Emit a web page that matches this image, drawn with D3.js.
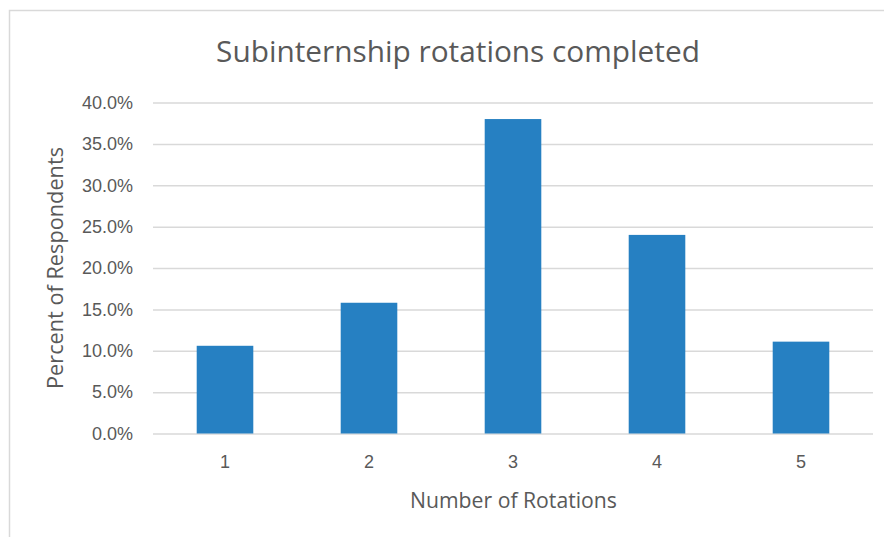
<!DOCTYPE html>
<html>
<head>
<meta charset="utf-8">
<script src="https://cdn.jsdelivr.net/npm/d3@7"></script>
<style>
  html, body { margin: 0; padding: 0; background: #ffffff; }
  svg { display: block; font-family: "Open Sans", "Noto Sans", sans-serif; }
</style>
</head>
<body>
<svg id="chart" width="884" height="537"></svg>
<script>
// Share of respondents by number of subinternship rotations completed
const rotations = ["1", "2", "3", "4", "5"];
const percentRespondents = [10.6, 15.8, 38.0, 24.0, 11.1];
const yTicks = [0, 5, 10, 15, 20, 25, 30, 35, 40];

const chartTitle = "Subinternship rotations completed";
const xTitle = "Number of Rotations";
const yTitle = "Percent of Respondents";

const svg = d3.select("#chart");
const W = 884, H = 537;
const plot = { left: 153, right: 873, top: 102.5, bottom: 433.5 };
const textColor = "#595959";

// outer chart frame
svg.append("rect")
  .attr("x", 9.5).attr("y", 10.5)
  .attr("width", W + 10).attr("height", H + 10)
  .attr("fill", "#ffffff")
  .attr("stroke", "#d9d9d9").attr("stroke-width", 1.5);

const x = d3.scaleBand()
  .domain(rotations)
  .range([plot.left, plot.right])
  .paddingInner(0.607)
  .paddingOuter(0.3035);

const y = d3.scaleLinear()
  .domain([0, 40])
  .range([plot.bottom, plot.top]);

// horizontal gridlines and percentage labels
const yAxis = d3.axisLeft(y)
  .tickValues(yTicks)
  .tickFormat(d => d.toFixed(1) + "%")
  .tickSize(-(plot.right - plot.left))
  .tickPadding(20);

const gy = svg.append("g")
  .attr("transform", `translate(${plot.left},0)`)
  .call(yAxis);
gy.select(".domain").remove();
gy.selectAll(".tick line")
  .attr("stroke", "#d9d9d9")
  .attr("stroke-width", 1.5);
gy.selectAll(".tick text")
  .attr("fill", textColor)
  .style("font-size", "18px");

// bars
svg.append("g")
  .selectAll("rect")
  .data(rotations)
  .join("rect")
  .attr("x", d => x(d))
  .attr("width", x.bandwidth())
  .attr("y", (d, i) => y(percentRespondents[i]))
  .attr("height", (d, i) => y(0) - y(percentRespondents[i]))
  .attr("fill", "#2680c2");

// category labels
const xAxis = d3.axisBottom(x).tickSize(0).tickPadding(22);
const gx = svg.append("g")
  .attr("transform", `translate(0,${plot.bottom})`)
  .call(xAxis);
gx.select(".domain").remove();
gx.selectAll(".tick text")
  .attr("fill", textColor)
  .style("font-size", "18px");

// shrink or grow a text's font so it spans a given width
function fitWidth(sel, target, start) {
  sel.style("font-size", start + "px");
  const w = sel.node().getComputedTextLength();
  sel.style("font-size", (start * target / w).toFixed(2) + "px");
}

const title = svg.append("text")
  .attr("x", 458).attr("y", 62)
  .attr("text-anchor", "middle")
  .attr("fill", textColor)
  .text(chartTitle);
fitWidth(title, 484, 28);

const xt = svg.append("text")
  .attr("x", 513.5).attr("y", 508)
  .attr("text-anchor", "middle")
  .attr("fill", textColor)
  .text(xTitle);
fitWidth(xt, 207, 19);

const yt = svg.append("text")
  .attr("transform", `translate(63,${(plot.top + plot.bottom) / 2}) rotate(-90)`)
  .attr("text-anchor", "middle")
  .attr("fill", textColor)
  .text(yTitle);
fitWidth(yt, 242, 19);
</script>
</body>
</html>
